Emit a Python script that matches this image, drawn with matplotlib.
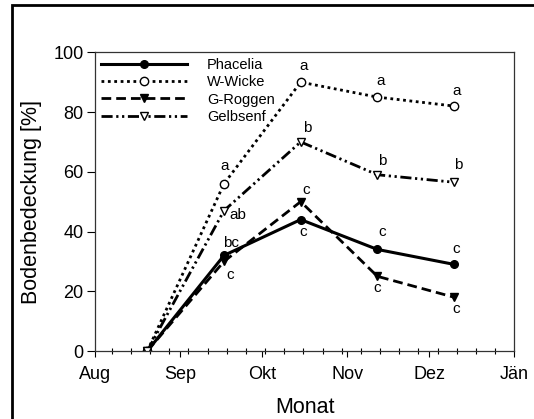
import matplotlib
matplotlib.use('Agg')
import matplotlib.pyplot as plt
from matplotlib.patches import Rectangle
import numpy as np

plt.rcParams['font.family'] = ['Liberation Sans', 'DejaVu Sans']

# Tage seit 1. August
tage = [19, 47, 75, 103, 131]
monat_tage = [0, 31, 61, 92, 122, 153]
monat_namen = ['Aug', 'Sep', 'Okt', 'Nov', 'Dez', 'Jän']

phacelia = [0, 32, 44, 34, 29]
wwicke = [0, 56, 90, 85, 82]
groggen = [0, 30, 50, 25, 18]
gelbsenf = [0, 47, 70, 59, 56.5]

buchst_phacelia = ['', 'bc', 'c', 'c', 'c']
buchst_wwicke = ['', 'a', 'a', 'a', 'a']
buchst_groggen = ['', 'c', 'c', 'c', 'c']
buchst_gelbsenf = ['', 'ab', 'b', 'b', 'b']

# Versatz der Buchstaben in Pixel (dx, dy)
vers_phacelia = [(0, 0), (7, 12), (2, -12), (5, 17), (2, 15)]
vers_wwicke = [(0, 0), (1, 18), (3, 16), (3, 16), (3, 15)]
vers_groggen = [(0, 0), (6, -14), (5, 12), (0, -12), (2, -12)]
vers_gelbsenf = [(0, 0), (14, -4), (7, 14), (5, 14), (4, 17)]

fig = plt.figure(figsize=(5.34, 4.19), dpi=100)
ax = fig.add_axes([95.3/534, 1 - 351/419, (514.3-95.3)/534, (351-52.3)/419])

ax.plot(tage, phacelia, color='black', lw=2.2, ls='-', marker='o', ms=5.5,
        mfc='black', mec='black', label='Phacelia')
ax.plot(tage, wwicke, color='black', lw=2, ls=(0, (1, 1.3)), marker='o', ms=6,
        mfc='white', mec='black', mew=1, label='W-Wicke')
ax.plot(tage, groggen, color='black', lw=2, ls=(0, (3.5, 1.8)), marker='v', ms=5.5,
        mfc='black', mec='black', label='G-Roggen')
ax.plot(tage, gelbsenf, color='black', lw=2, ls=(0, (4, 1.3, 0.8, 1.3, 0.8, 1.3)),
        marker='v', ms=5.5, mfc='white', mec='black', mew=1, label='Gelbsenf')

for werte, buchst, vers in [(phacelia, buchst_phacelia, vers_phacelia),
                            (wwicke, buchst_wwicke, vers_wwicke),
                            (groggen, buchst_groggen, vers_groggen),
                            (gelbsenf, buchst_gelbsenf, vers_gelbsenf)]:
    for x, y, b, (dx, dy) in zip(tage, werte, buchst, vers):
        if b:
            ax.annotate(b, (x, y), xytext=(dx, dy), textcoords='offset pixels',
                        ha='center', va='center', fontsize=11)

ax.set_xlim(0, 153)
ax.set_ylim(0, 100)
ax.set_xticks(monat_tage)
ax.set_xticklabels(monat_namen)
ax.set_xticks(np.arange(6, 154, 7), minor=True)
ax.set_yticks([0, 20, 40, 60, 80, 100])
ax.tick_params(axis='x', which='major', labelsize=13, direction='out', length=4, width=0.8, pad=7)
ax.tick_params(axis='y', which='major', labelsize=13, direction='out', length=6, width=0.8, pad=2.5)
ax.tick_params(axis='x', which='minor', direction='inout', length=4, width=0.8)
for s in ax.spines.values():
    s.set_color('#333333')
    s.set_linewidth(0.9)

ax.set_xlabel('Monat', fontsize=15.5, labelpad=10)
ax.set_ylabel('Bodenbedeckung [%]', fontsize=15.5, labelpad=8)

ax.legend(loc='upper left', frameon=False, fontsize=10.5, handlelength=5.9,
          handletextpad=1.35, labelspacing=0.22, borderaxespad=0.3, borderpad=0.1)

fig.patches.append(Rectangle((12.3/534, -0.2), 2, 1.2 - 5/419, transform=fig.transFigure,
                             fill=False, edgecolor='black', lw=2, figure=fig))

fig.savefig('out.png', dpi=100)
